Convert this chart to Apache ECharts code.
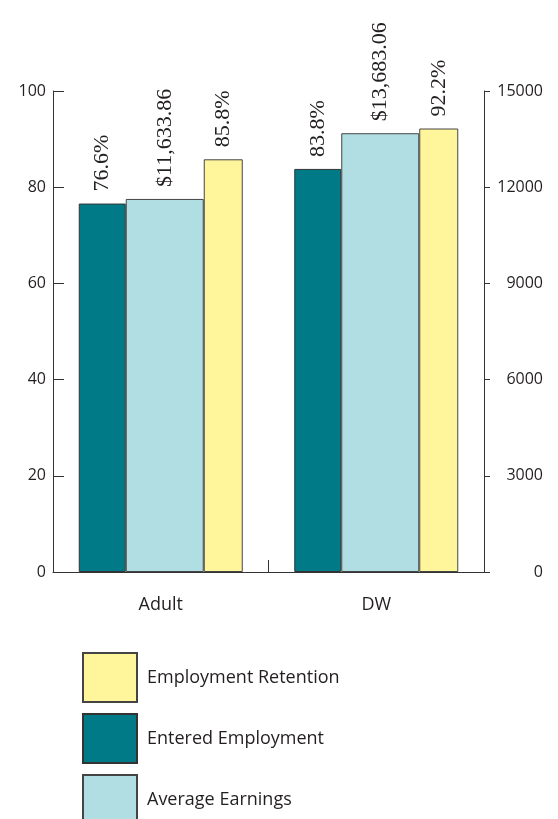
<!DOCTYPE html>
<html>
<head>
<meta charset="utf-8">
<style>
  html, body { margin: 0; padding: 0; background: #ffffff; }
  #chart { width: 558px; height: 819px; }
</style>
<script src="https://cdn.jsdelivr.net/npm/echarts@6/dist/echarts.min.js"></script>
</head>
<body>
<div id="chart"></div>
<script>
// Program groups on the category axis
const categories = ['Adult', 'DW'];

// Rates in percent (left axis)
const enteredEmployment = [76.6, 83.8];
const employmentRetention = [85.8, 92.2];

// Average earnings in dollars (right axis)
const averageEarnings = [11633.86, 13683.06];

// Axis ranges and tick steps
const leftAxisMax = 100, leftAxisStep = 20;
const rightAxisMax = 15000, rightAxisStep = 3000;

const ink = '#231f20';
const sansFont = 'Open Sans';
const serifFont = 'Liberation Serif';

function pct(p) { return p.value.toFixed(1) + '%'; }
function dollars(p) {
  return '$' + p.value.toLocaleString('en-US', { minimumFractionDigits: 2, maximumFractionDigits: 2 });
}

const barLabel = {
  show: true,
  position: 'top',
  rotate: 90,
  align: 'left',
  verticalAlign: 'middle',
  distance: 12,
  fontFamily: serifFont,
  fontSize: 22,
  color: ink
};

const chart = echarts.init(document.getElementById('chart'), null, { renderer: 'canvas' });

chart.setOption({
  animation: false,
  backgroundColor: '#ffffff',
  grid: { left: 53, right: 74, top: 91, bottom: 247, containLabel: false },
  legend: {
    orient: 'vertical',
    left: 77,
    top: 647,
    height: 300,
    itemWidth: 54,
    itemHeight: 49,
    itemGap: 10,
    icon: 'rect',
    data: ['Employment Retention', 'Entered Employment', 'Average Earnings'],
    textStyle: { fontFamily: sansFont, fontSize: 18, color: ink, padding: [12, 0, 0, 5] },
    selectedMode: false
  },
  xAxis: {
    type: 'category',
    data: categories,
    axisLine: { lineStyle: { color: '#333333', width: 1 } },
    axisTick: { show: true, inside: true, length: 12, lineStyle: { color: '#333333' } },
    axisLabel: { fontFamily: sansFont, fontSize: 18, color: ink, margin: 24 }
  },
  yAxis: [
    {
      type: 'value',
      min: 0,
      max: leftAxisMax,
      interval: leftAxisStep,
      position: 'left',
      axisLine: { show: true, lineStyle: { color: '#333333', width: 1 } },
      axisTick: { show: true, inside: true, length: 11, lineStyle: { color: '#333333' } },
      splitLine: { show: false },
      axisLabel: { fontFamily: sansFont, fontSize: 16, color: ink, margin: 7 }
    },
    {
      type: 'value',
      min: 0,
      max: rightAxisMax,
      interval: rightAxisStep,
      position: 'right',
      axisLine: { show: true, lineStyle: { color: '#333333', width: 1 } },
      axisTick: { show: true, inside: false, length: 6, lineStyle: { color: '#333333' } },
      splitLine: { show: false },
      axisLabel: {
        fontFamily: sansFont, fontSize: 16, color: ink, margin: 59, align: 'right',
        formatter: function (v) { return String(v); }
      }
    }
  ],
  series: [
    {
      name: 'Entered Employment',
      type: 'bar',
      yAxisIndex: 0,
      data: enteredEmployment,
      barWidth: 47,
      barGap: '0%',
      itemStyle: { color: '#007a87', borderColor: '#333333', borderWidth: 1 },
      label: Object.assign({ formatter: pct }, barLabel)
    },
    {
      name: 'Average Earnings',
      type: 'bar',
      yAxisIndex: 1,
      data: averageEarnings,
      barWidth: 78,
      barGap: '0%',
      itemStyle: { color: '#b0dee3', borderColor: '#444444', borderWidth: 1 },
      label: Object.assign({ formatter: dollars }, barLabel)
    },
    {
      name: 'Employment Retention',
      type: 'bar',
      yAxisIndex: 0,
      data: employmentRetention,
      barWidth: 39,
      barGap: '0%',
      itemStyle: { color: '#fff59b', borderColor: '#444444', borderWidth: 1 },
      label: Object.assign({ formatter: pct }, barLabel)
    }
  ]
});
</script>
</body>
</html>
